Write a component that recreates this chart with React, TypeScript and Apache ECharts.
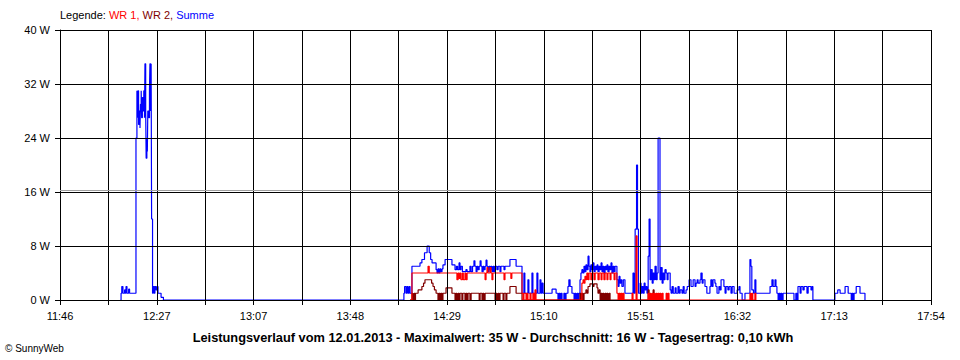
import React, { useEffect, useRef } from "react";
import * as echarts from "echarts";

// x values: minutes after 11:46, y values: watts
const timeLabels = ["11:46", "12:27", "13:07", "13:48", "14:29", "15:10", "15:51", "16:32", "17:13", "17:54"];
const yTicks = [0, 8, 16, 24, 32, 40];

const summe: [number, number][] = [
  [25.5, 0], [25.8, 1], [26.1, 2], [26.6, 1], [27.3, 1.5], [27.6, 1], [27.9, 2], [28.3, 1], [29.0, 1.6], [29.4, 1],
  [32.1, 24], [32.5, 31], [32.7, 27], [32.9, 31], [33.2, 26], [33.5, 28], [33.8, 25.5], [34.0, 29], [34.3, 31], [34.5, 27],
  [34.8, 30], [35.1, 28], [35.4, 31], [35.7, 27], [35.9, 35], [36.2, 28], [36.4, 21], [36.7, 24], [36.9, 22], [37.1, 28],
  [37.5, 27], [37.8, 31], [38.0, 35], [38.3, 28], [38.5, 35], [38.7, 12], [39.1, 1], [39.4, 2], [39.8, 1], [40.1, 2],
  [40.6, 1.5], [41.0, 2], [41.4, 1], [42.7, 0.4], [43.7, 0],
  [145.3, 1], [145.6, 2], [146.2, 1], [146.6, 2], [147.0, 1], [147.5, 2], [147.9, 1], [148.7, 5], [152.1, 5.5], [152.9, 6],
  [154.0, 7], [155.1, 8], [156.0, 7], [156.6, 6], [157.2, 5.5], [158.9, 4.5], [159.3, 4], [159.7, 4.6], [160.1, 4], [160.5, 4.6],
  [160.9, 4.2], [161.4, 4.6], [161.8, 5.2], [162.7, 6], [165.6, 5.2], [166.9, 4.5], [167.5, 5], [168.0, 4.5], [168.6, 5.5], [169.0, 4.5],
  [169.4, 5], [170.0, 4.2], [171.5, 4.5], [172.0, 4.2], [173.2, 5], [173.7, 4.2], [174.3, 5], [174.9, 5.8], [175.3, 5], [175.8, 4.2],
  [176.2, 5], [176.6, 4.5], [177.1, 5], [177.5, 5.8], [177.9, 5], [178.3, 4.2], [178.8, 5], [179.1, 4.5], [179.6, 5], [180.0, 5.9],
  [180.4, 5], [180.8, 4.2], [181.3, 5], [181.7, 4.5], [182.1, 5], [182.5, 4.2], [183.0, 5], [183.4, 4.2], [183.8, 5], [184.6, 4.5],
  [185.1, 5], [185.9, 4.2], [186.3, 5], [187.6, 4.5], [188.0, 5], [190.1, 6], [192.7, 5], [195.2, 1],
  [196.0, 4], [196.4, 1], [197.7, 3], [198.1, 1], [199.4, 4], [199.8, 1], [201.5, 4], [201.9, 1], [202.8, 3], [203.2, 1],
  [203.6, 2.5], [204.1, 1], [207.9, 1.6], [209.6, 1], [210.4, 0], [210.8, 1], [211.3, 0], [211.7, 1], [212.1, 0], [212.9, 1],
  [213.4, 0], [213.8, 1], [214.6, 2], [215.0, 3], [215.5, 2], [216.3, 1], [217.2, 0], [217.6, 1], [218.0, 0], [218.5, 1],
  [218.9, 0], [219.3, 1], [219.7, 3], [220.1, 4], [220.5, 4.5], [220.9, 4], [221.4, 5], [221.8, 4.2], [222.2, 5.2], [222.6, 4.5],
  [223.1, 6.5], [223.5, 5], [223.9, 4.2], [224.3, 5.2], [224.8, 4.5], [225.2, 5.5], [225.6, 4.2], [226.1, 5], [226.5, 4.5], [226.9, 5.2],
  [227.3, 4.2], [227.8, 5], [228.2, 4.5], [228.6, 5.5], [229.0, 4.2], [229.4, 5], [229.8, 4], [230.3, 5], [230.7, 4.5], [231.1, 5.2],
  [231.5, 4.2], [232.0, 5], [232.4, 4.5], [232.8, 5.5], [233.2, 4], [233.7, 5], [234.1, 4.2], [234.5, 5], [235.3, 3], [235.8, 2],
  [236.2, 3.5], [236.6, 2.5], [237.0, 3], [237.4, 2], [238.0, 3], [238.7, 1], [242.1, 4], [242.5, 1], [243.0, 10.5], [243.6, 20],
  [244.0, 10.5], [244.4, 1], [245.1, 2.5], [245.5, 1], [245.9, 2], [246.4, 1], [246.8, 2.5], [247.2, 1.5], [247.6, 2], [248.0, 1],
  [248.5, 6.5], [248.9, 12], [249.3, 3], [249.7, 4.5], [250.2, 2.5], [250.6, 4], [251.0, 3], [251.4, 5], [251.9, 3], [252.3, 4],
  [252.7, 24], [253.5, 3], [253.9, 4.8], [254.4, 2.5], [254.8, 4], [255.2, 3], [255.6, 4.5], [256.1, 4], [256.5, 3], [256.9, 4],
  [257.8, 1.5], [258.2, 1], [258.6, 2], [259.1, 1], [259.9, 1.8], [260.3, 1], [261.1, 2], [261.6, 1], [262.0, 1.5], [262.8, 1],
  [263.3, 2], [263.7, 1], [264.5, 1.5], [265.0, 2], [265.8, 3], [266.6, 2], [267.5, 3], [268.3, 2], [268.7, 2.5], [269.2, 3],
  [269.6, 2.5], [270.4, 3], [270.8, 4], [271.3, 2.5], [271.7, 3], [272.5, 2], [273.3, 1], [274.6, 2], [275.0, 3], [275.5, 2],
  [275.9, 3], [276.7, 2.5], [277.1, 2], [277.6, 1], [278.4, 2], [278.9, 1.5], [279.3, 3], [280.5, 2], [281.0, 1], [281.4, 2],
  [282.2, 1.5], [282.7, 2], [283.5, 1], [284.0, 2], [284.8, 1], [286.1, 1.5], [286.9, 2], [287.3, 1], [288.2, 0], [289.4, 1],
  [291.5, 6], [291.9, 5], [292.3, 1.5], [293.0, 1], [293.6, 3], [294.0, 1], [300.0, 2], [300.8, 3], [301.3, 2], [302.1, 3],
  [302.5, 2], [302.9, 1], [303.4, 0], [303.8, 1], [304.2, 0], [304.6, 1], [305.0, 0], [305.5, 1], [310.1, 0], [310.9, 1],
  [311.4, 0], [311.8, 2], [312.7, 1], [313.1, 2], [313.9, 1.5], [314.4, 2], [315.6, 1], [316.1, 2], [317.3, 1.5], [317.7, 2],
  [318.1, 0], [327.4, 1], [328.6, 1.5], [329.6, 1], [331.7, 2], [333.0, 1], [334.3, 0], [334.7, 1], [335.1, 0], [335.5, 1],
  [336.4, 2], [338.0, 1], [340.1, 0],
];

const wr1: [number, number][] = [
  [147.9, 0], [148.7, 4], [155.5, 5], [156.0, 4], [167.7, 3], [168.2, 4], [168.6, 3.2], [169.0, 4], [169.4, 3], [170.0, 4],
  [170.4, 3], [171.1, 4], [171.5, 3], [172.0, 4], [179.6, 3], [180.0, 4], [180.4, 4.8], [180.8, 4], [181.7, 4.8], [182.1, 4],
  [182.5, 3], [182.9, 4], [187.6, 3], [188.0, 4], [190.5, 3.2], [190.9, 4], [195.2, 1], [195.6, 0], [196.0, 1], [196.9, 0],
  [197.3, 1], [197.7, 0], [198.6, 1], [199.0, 0], [199.8, 1], [200.3, 0], [200.7, 1.5], [201.1, 0],
  [220.5, 2.5], [221.0, 3], [221.4, 2.5], [221.8, 3.5], [222.2, 3], [222.6, 4], [223.1, 3], [223.5, 4], [224.3, 3], [224.8, 4],
  [225.6, 3], [226.1, 4], [227.3, 3], [227.8, 4], [228.6, 3], [229.0, 4], [229.8, 3], [230.3, 4], [231.1, 3], [231.5, 4],
  [232.4, 3], [232.8, 4], [234.1, 3], [234.5, 4], [235.3, 1], [235.8, 0], [236.2, 1], [236.6, 0], [237.0, 1], [237.4, 0],
  [237.8, 1], [238.3, 0], [241.7, 1], [242.1, 0], [243.4, 9.5], [243.8, 0], [248.5, 1], [248.9, 0], [249.3, 1], [249.7, 0],
  [250.2, 1], [250.6, 0], [251.0, 1], [251.4, 0], [251.9, 1], [252.3, 0], [252.7, 1], [253.1, 0], [253.5, 1], [253.9, 0],
  [254.4, 1], [254.8, 0], [256.1, 1], [256.5, 0], [256.9, 1], [257.3, 0], [291.5, 1], [291.9, 0], [292.3, 1], [292.7, 0],
  [293.6, 1], [294.0, 0],
];

const wr2: [number, number][] = [
  [147.9, 0], [148.7, 1], [149.1, 0], [149.6, 1], [149.9, 0], [150.2, 1], [151.3, 1.5], [152.9, 2], [153.6, 2.5], [154.2, 3],
  [157.0, 2.5], [157.6, 2], [158.2, 1.5], [158.9, 1], [159.7, 0], [160.1, 1], [160.6, 0], [161.0, 1], [161.4, 0], [161.8, 1],
  [163.1, 1.8], [165.6, 1], [166.9, 0], [167.3, 1], [167.7, 0], [168.2, 1], [168.6, 0], [169.0, 1], [169.8, 0], [170.2, 1],
  [171.1, 0], [171.5, 1], [172.0, 0], [172.4, 1], [173.2, 0], [173.7, 1], [177.1, 0], [177.5, 1], [178.3, 0], [178.7, 1],
  [179.1, 0], [179.6, 1], [183.8, 0], [184.2, 1], [184.6, 0], [185.1, 1], [185.5, 0], [185.9, 1], [187.2, 0], [187.6, 1],
  [188.4, 0], [188.8, 1], [190.1, 2], [192.7, 1], [195.2, 0],
  [219.7, 1], [220.1, 0], [220.5, 1], [220.9, 0], [221.4, 1], [222.2, 1.5], [222.6, 1], [223.1, 2], [223.9, 2.4], [225.2, 2],
  [225.6, 2.4], [226.9, 1.8], [227.3, 1], [227.8, 1.5], [228.2, 0], [228.6, 1], [229.0, 0], [229.4, 1], [229.8, 0], [230.3, 1],
  [230.7, 0], [231.1, 1], [231.5, 0], [232.0, 1], [232.4, 0], [248.5, 1.5], [248.9, 0], [250.6, 1.5], [251.0, 0],
];

const SPAN = 368;
const STEP = SPAN / 18;
const FONT = "'Liberation Sans', Arial, sans-serif";

export default function App() {
  const ref = useRef<HTMLDivElement>(null);
  useEffect(() => {
    if (!ref.current) return;
    const chart = echarts.init(ref.current, null, { renderer: "svg" });
    const lineBase = (name: string, data: [number, number][], color: string) => ({
      name,
      type: "line",
      step: "end",
      data,
      showSymbol: false,
      symbol: "none",
      lineStyle: { color, width: 1.2 },
      itemStyle: { color },
      z: 2,
    });
    chart.setOption({
      animation: false,
      backgroundColor: "#ffffff",
      grid: { left: 60, right: 29, top: 30, bottom: 60, containLabel: false },
      xAxis: {
        type: "value",
        min: 0,
        max: SPAN,
        interval: STEP,
        z: 3,
        axisLine: { show: true, lineStyle: { color: "#000", width: 1 } },
        axisTick: { show: true, length: 5, lineStyle: { color: "#000" } },
        splitLine: { show: true, lineStyle: { color: "#000", width: 1 } },
        axisLabel: {
          margin: 10,
          color: "#000",
          fontFamily: FONT,
          fontSize: 11,
          showMinLabel: true,
          showMaxLabel: true,
          formatter: (v: number) => {
            const i = Math.round(v / STEP);
            return i % 2 === 0 ? timeLabels[i / 2] : "";
          },
        },
      },
      yAxis: {
        type: "value",
        min: yTicks[0],
        max: yTicks[yTicks.length - 1],
        interval: 8,
        z: 3,
        axisLine: { show: true, lineStyle: { color: "#000", width: 1 } },
        axisTick: { show: true, length: 5, lineStyle: { color: "#000" } },
        splitLine: { show: true, lineStyle: { color: "#000", width: 1 } },
        axisLabel: {
          margin: 10,
          color: "#000",
          fontFamily: FONT,
          fontSize: 11,
          formatter: (v: number) => `${v} W`,
        },
      },
      series: [
        {
          ...lineBase("Summe", summe, "#0000ff"),
          markLine: {
            silent: true,
            symbol: "none",
            label: { show: false },
            lineStyle: { color: "#a0a0a0", width: 1, type: "solid" },
            data: [{ yAxis: 16.3 }],
          },
        },
        lineBase("WR 2", wr2, "#800000"),
        lineBase("WR 1", wr1, "#ff0000"),
      ],
      graphic: [
        {
          type: "text",
          left: 60,
          top: 9,
          style: {
            text: "{k|Legende: }{a|WR 1, }{b|WR 2, }{c|Summe}",
            rich: {
              k: { fill: "#000", fontFamily: FONT, fontSize: 11 },
              a: { fill: "#ff0000", fontFamily: FONT, fontSize: 11 },
              b: { fill: "#800000", fontFamily: FONT, fontSize: 11 },
              c: { fill: "#0000ff", fontFamily: FONT, fontSize: 11 },
            },
          },
        },
        {
          type: "text",
          x: 493,
          y: 337,
          style: {
            text: "Leistungsverlauf vom 12.01.2013 - Maximalwert: 35 W - Durchschnitt: 16 W - Tagesertrag: 0,10 kWh",
            fill: "#000",
            fontFamily: FONT,
            fontSize: 12.8,
            fontWeight: "bold",
            textAlign: "center",
            textVerticalAlign: "middle",
          },
        },
        {
          type: "text",
          left: 5,
          top: 343,
          style: { text: "© SunnyWeb", fill: "#000", fontFamily: FONT, fontSize: 10 },
        },
      ],
    });
    return () => chart.dispose();
  }, []);
  return <div ref={ref} style={{ position: "absolute", left: 0, top: 0, width: 960, height: 360 }} />;
}
